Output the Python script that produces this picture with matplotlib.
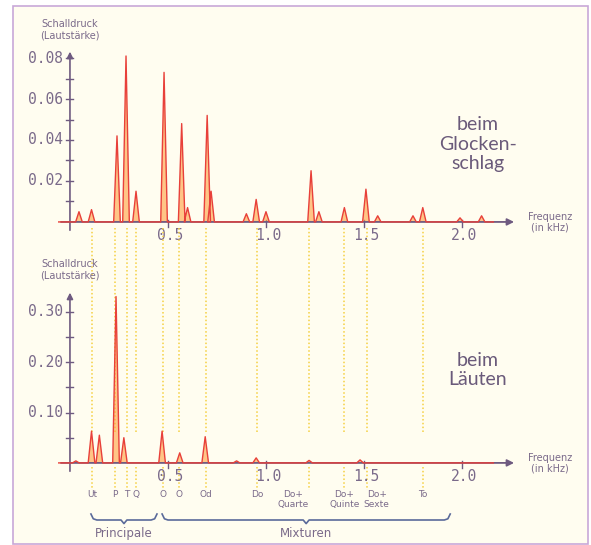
import matplotlib
matplotlib.use('Agg')
import matplotlib.pyplot as plt
import matplotlib.transforms as mtrans
from matplotlib.patches import Rectangle

W, H = 591, 545

# --- data (kHz / sound pressure) ---
top_freq = [0.046, 0.11, 0.24, 0.286, 0.337, 0.48, 0.57, 0.60, 0.70, 0.72,
            0.90, 0.95, 1.0, 1.23, 1.27, 1.40, 1.51, 1.57, 1.75, 1.80, 1.99, 2.10]
top_amp = [0.005, 0.006, 0.042, 0.081, 0.015, 0.073, 0.048, 0.007, 0.052, 0.015,
           0.004, 0.011, 0.005, 0.025, 0.005, 0.007, 0.016, 0.003, 0.003, 0.007, 0.002, 0.003]

bot_freq = [0.03, 0.11, 0.15, 0.235, 0.275, 0.47, 0.56, 0.69, 0.85, 0.95, 1.22, 1.48]
bot_amp = [0.004, 0.063, 0.055, 0.33, 0.05, 0.063, 0.02, 0.052, 0.004, 0.01, 0.005, 0.006]

top_yticks = [0.02, 0.04, 0.06, 0.08]
top_ylabels = ['0.02', '0.04', '0.06', '0.08']
bot_yticks = [0.10, 0.20, 0.30]
bot_ylabels = ['0.10', '0.20', '0.30']
x_ticks = [0.5, 1.0, 1.5, 2.0]
x_labels = ['0.5', '1.0', '1.5', '2.0']

# partial tones marked by dotted lines
tone_freq = [0.112, 0.23, 0.29, 0.337, 0.474, 0.556, 0.694, 0.954, 1.22, 1.40, 1.515, 1.80]
tone_names = ['Ut', 'P', 'T', 'Q', 'O', 'O', 'Od', 'Do', 'Do+\nQuarte', 'Do+\nQuinte', 'Do+\nSexte', 'To']

groups = ['Principale', 'Mixturen']
group_span = [(0.107, 0.444), (0.47, 1.94)]

AXC = '#6e5a80'
TXT = '#7a6a8a'
SPEC_EDGE = '#e8403a'
DOT = '#f5d040'
BG = '#fffdf0'

fig = plt.figure(figsize=(W / 100, H / 100), dpi=100)
fig.patch.set_facecolor('white')
fig.add_artist(Rectangle((13 / W, 1 - 544 / H), (588 - 13) / W, (544 - 6) / H,
                         transform=fig.transFigure, facecolor=BG, edgecolor='#c8a8d8', lw=1.2, zorder=0))


def px_axes(x0, x1, y_top, y_bot):
    return fig.add_axes([x0 / W, 1 - y_bot / H, (x1 - x0) / W, (y_bot - y_top) / H])


def spectrum(freq, amp, w=0.017):
    xs, ys = [-0.06], [0]
    for f, a in sorted(zip(freq, amp)):
        xs += [f - w, f, f + w]
        ys += [0, a, 0]
    return xs, ys


def setup(ax, ymin, ymax, yticks, ylabels, minor_step, ylab_y):
    ax.set_xlim(-0.061, 2.296)
    ax.set_ylim(ymin, ymax)
    ax.axis('off')
    ax.patch.set_alpha(0)
    # axes with arrows
    ax.annotate('', xy=(2.28, 0), xytext=(-0.06, 0),
                arrowprops=dict(arrowstyle='-|>', color=AXC, lw=1.3, mutation_scale=10))
    ax.annotate('', xy=(0, ymax * 0.995), xytext=(0, ymin),
                arrowprops=dict(arrowstyle='-|>', color=AXC, lw=1.2, mutation_scale=9))
    # y ticks
    t = minor_step
    while t < ymax * 0.98:
        ax.plot([-0.018, 0.018], [t, t], color=AXC, lw=1, clip_on=False)
        t += minor_step
    for v, lab in zip(yticks, ylabels):
        ax.text(-0.035, v, lab, ha='right', va='center', fontsize=10.5,
                family='DejaVu Sans Mono', color=TXT)
    # x ticks
    span = ymax - ymin
    for v, lab in zip(x_ticks, x_labels):
        ax.plot([v, v], [-span * 0.03, span * 0.012], color=AXC, lw=1, clip_on=False)
        ax.text(v + 0.01, -span * 0.035, lab, ha='center', va='top', fontsize=10.5,
                family='DejaVu Sans Mono', color=TXT)
    ax.text(2.45, 0, 'Frequenz\n(in kHz)', ha='center', va='center', fontsize=7,
            color=TXT, linespacing=1.1)
    ax.text(0.0, ylab_y, 'Schalldruck\n(Lautstärke)', ha='center', va='bottom', fontsize=7,
            color=TXT, linespacing=1.1, transform=mtrans.blended_transform_factory(ax.transData, fig.transFigure))


ax1 = px_axes(58, 520, 48, 233)
ax2 = px_axes(58, 520, 289, 474)

# dotted guide lines for partial tones (figure y, data x)
tr = mtrans.blended_transform_factory(ax2.transData, fig.transFigure)
for f in tone_freq:
    for ya, yb in [(228, 432), (467, 490)]:
        ax2.plot([f, f], [1 - ya / H, 1 - yb / H], transform=tr, color=DOT, lw=1.1,
                 ls=(0, (1, 1.5)), clip_on=False, zorder=0)

setup(ax1, -0.0054, 0.0849, top_yticks, top_ylabels, 0.01, 1 - 40 / H)
setup(ax2, -0.022, 0.345, bot_yticks, bot_ylabels, 0.05, 1 - 280 / H)

for ax, fr, am in [(ax1, top_freq, top_amp), (ax2, bot_freq, bot_amp)]:
    xs, ys = spectrum(fr, am)
    ax.fill(xs + [2.16], ys + [0], color='#ffa040', alpha=0.6, lw=0, zorder=2)
    ax.plot(xs + [2.16], ys + [0], color=SPEC_EDGE, lw=1.0, zorder=3)

ax1.text(2.08, 0.038, 'beim\nGlocken-\nschlag', ha='center', va='center',
         fontsize=14, family='Lato', color='#6a5a7a', linespacing=1.15)
ax2.text(2.08, 0.184, 'beim\nLäuten', ha='center', va='center',
         fontsize=14, family='Lato', color='#6a5a7a', linespacing=1.15)

# tone names under the lower axis
label_dx = {8: -0.08, 10: 0.05}
for i, (f, name) in enumerate(zip(tone_freq, tone_names)):
    ax2.text(f + label_dx.get(i, 0), 1 - 490 / H, name, transform=tr, ha='center', va='top',
             fontsize=6.5, color=TXT, linespacing=1.2)

# group braces
for name, (a, b) in zip(groups, group_span):
    yb = 1 - 520 / H
    h = 6 / H
    c = (a + b) / 2
    d = 0.03
    ax2.plot([a, a + d * 0.4, a + d, c - d * 0.5, c, c + d * 0.5, b - d, b - d * 0.4, b],
             [yb + h, yb + h * 0.2, yb, yb, yb - h * 0.6, yb, yb, yb + h * 0.2, yb + h],
             transform=tr, color='#5a6a9a', lw=1.2, clip_on=False)
    ax2.text(c, 1 - 527 / H, name, transform=tr, ha='center', va='top', fontsize=8.5, color=TXT)

fig.savefig('out.png', dpi=100, facecolor=fig.get_facecolor())
